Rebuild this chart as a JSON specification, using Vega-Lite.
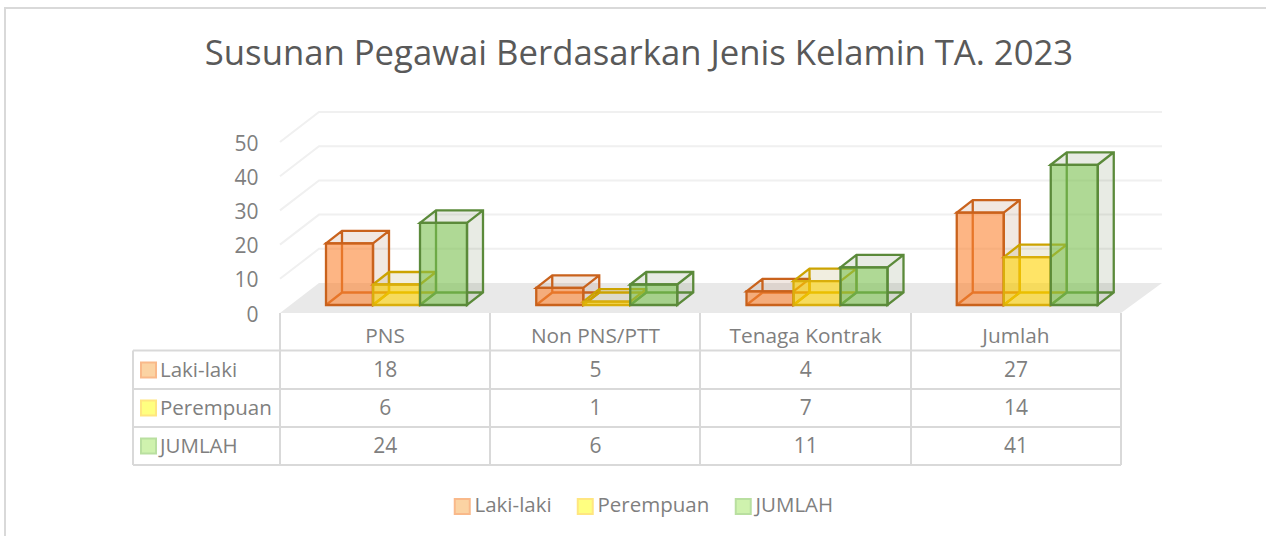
{
"$schema":"https://vega.github.io/schema/vega-lite/v6.json",
"autosize":{"type":"none"},"padding":0,"width":1266,"height":536,
"background":"#ffffff",
"view":{"stroke":null},
"config":{"font":"Open Sans"},
"title":{"text":"Susunan Pegawai Berdasarkan Jenis Kelamin TA. 2023","font":"Open Sans","fontSize":34.7,"fontWeight":"normal","color":"#595959","limit":1200,"anchor":"middle","dx":6,"baseline":"alphabetic","offset":-65,"dy":35,"lineHeight":30},
"datasets":{
"rows":[
{"category":"PNS","series":"Laki-laki","value":18},
{"category":"PNS","series":"Perempuan","value":6},
{"category":"PNS","series":"JUMLAH","value":24},
{"category":"Non PNS/PTT","series":"Laki-laki","value":5},
{"category":"Non PNS/PTT","series":"Perempuan","value":1},
{"category":"Non PNS/PTT","series":"JUMLAH","value":6},
{"category":"Tenaga Kontrak","series":"Laki-laki","value":4},
{"category":"Tenaga Kontrak","series":"Perempuan","value":7},
{"category":"Tenaga Kontrak","series":"JUMLAH","value":11},
{"category":"Jumlah","series":"Laki-laki","value":27},
{"category":"Jumlah","series":"Perempuan","value":14},
{"category":"Jumlah","series":"JUMLAH","value":41}
],
"ticks":[{"tick":10},{"tick":20},{"tick":30},{"tick":40},{"tick":50}]
},
"data":{"name":"rows"},
"resolve":{"scale":{"y":"independent","fill":"independent","stroke":"independent","shape":"independent"},"axis":{"y":"independent"}},
"layer":[
{
"layer":[
{"data":{"name":"ticks"},
 "mark":{"type":"point","filled":false,"opacity":1,"size":4,"strokeWidth":2,"stroke":"#F0F0F0","shape":"M0,0 L39,-30 H882"},
 "encoding":{
  "x":{"datum":"PNS","bandPosition":0,"type":"nominal","axis":null,"scale":{"domain":["PNS","Non PNS/PTT","Tenaga Kontrak","Jumlah"],"range":[280,1121],"paddingInner":0,"paddingOuter":0}},
  "y":{"field":"tick","type":"quantitative","scale":{"domain":[0,50],"range":[313,142],"nice":false},
   "axis":{"title":null,"values":[0,10,20,30,40,50],"domain":false,"ticks":false,"grid":false,"orient":"left","offset":-258,"labelPadding":0,"labelOffset":2,"labelFont":"Open Sans","labelFontSize":21,"labelColor":"#7F7F7F"}}
 }},
{"data":{"values":[{"floor":0}]},
 "mark":{"type":"point","filled":true,"opacity":1,"size":4,"fill":"#E9E9E9","stroke":null,"shape":"M0,0 L39,-30 H882 L841,0 Z"},
 "encoding":{
  "x":{"datum":"PNS","bandPosition":0,"type":"nominal","axis":null},
  "y":{"field":"floor","type":"quantitative"}
 }},
{"mark":{"type":"point","filled":true,"opacity":1,"size":4,"fillOpacity":0.12,"strokeWidth":2.3,"yOffset":-8},
 "encoding":{
  "x":{"field":"category","type":"nominal","axis":null},
  "xOffset":{"field":"series","type":"nominal","scale":{"domain":["Laki-laki","Perempuan","JUMLAH"],"range":[46,187],"paddingInner":0,"paddingOuter":0}},
  "y":{"field":"value","type":"quantitative"},
  "fill":{"field":"series","type":"nominal","legend":null,"scale":{"domain":["Laki-laki","Perempuan","JUMLAH"],"range":["#8B4513","#8B7500","#3E5E20"]}},
  "stroke":{"field":"series","type":"nominal","legend":null,"scale":{"domain":["Laki-laki","Perempuan","JUMLAH"],"range":["#C9621C","#CCA300","#5B8A3A"]}},
  "shape":{"field":"value","type":"nominal","legend":null,"scale":{"domain":[1,4,5,6,7,11,14,18,24,27,41],"range":[
"M-23.5,0 L-7.5,-12.5 H39.5 V-9.08 L23.5,3.42 V0 Z M23.5,0 L39.5,-12.5 Z M-7.5,-12.5 V-9.08 H39.5 H-7.5 Z M-23.5,3.42 L-7.5,-9.08 Z",
"M-23.5,0 L-7.5,-12.5 H39.5 V1.18 L23.5,13.68 V0 Z M23.5,0 L39.5,-12.5 Z M-7.5,-12.5 V1.18 H39.5 H-7.5 Z M-23.5,13.68 L-7.5,1.18 Z",
"M-23.5,0 L-7.5,-12.5 H39.5 V4.6 L23.5,17.1 V0 Z M23.5,0 L39.5,-12.5 Z M-7.5,-12.5 V4.6 H39.5 H-7.5 Z M-23.5,17.1 L-7.5,4.6 Z",
"M-23.5,0 L-7.5,-12.5 H39.5 V8.02 L23.5,20.52 V0 Z M23.5,0 L39.5,-12.5 Z M-7.5,-12.5 V8.02 H39.5 H-7.5 Z M-23.5,20.52 L-7.5,8.02 Z",
"M-23.5,0 L-7.5,-12.5 H39.5 V11.44 L23.5,23.94 V0 Z M23.5,0 L39.5,-12.5 Z M-7.5,-12.5 V11.44 H39.5 H-7.5 Z M-23.5,23.94 L-7.5,11.44 Z",
"M-23.5,0 L-7.5,-12.5 H39.5 V25.12 L23.5,37.62 V0 Z M23.5,0 L39.5,-12.5 Z M-7.5,-12.5 V25.12 H39.5 H-7.5 Z M-23.5,37.62 L-7.5,25.12 Z",
"M-23.5,0 L-7.5,-12.5 H39.5 V35.38 L23.5,47.88 V0 Z M23.5,0 L39.5,-12.5 Z M-7.5,-12.5 V35.38 H39.5 H-7.5 Z M-23.5,47.88 L-7.5,35.38 Z",
"M-23.5,0 L-7.5,-12.5 H39.5 V49.06 L23.5,61.56 V0 Z M23.5,0 L39.5,-12.5 Z M-7.5,-12.5 V49.06 H39.5 H-7.5 Z M-23.5,61.56 L-7.5,49.06 Z",
"M-23.5,0 L-7.5,-12.5 H39.5 V69.58 L23.5,82.08 V0 Z M23.5,0 L39.5,-12.5 Z M-7.5,-12.5 V69.58 H39.5 H-7.5 Z M-23.5,82.08 L-7.5,69.58 Z",
"M-23.5,0 L-7.5,-12.5 H39.5 V79.84 L23.5,92.34 V0 Z M23.5,0 L39.5,-12.5 Z M-7.5,-12.5 V79.84 H39.5 H-7.5 Z M-23.5,92.34 L-7.5,79.84 Z",
"M-23.5,0 L-7.5,-12.5 H39.5 V127.72 L23.5,140.22 V0 Z M23.5,0 L39.5,-12.5 Z M-7.5,-12.5 V127.72 H39.5 H-7.5 Z M-23.5,140.22 L-7.5,127.72 Z"
]}}
 }},
{"mark":{"type":"bar","strokeWidth":2.3,"yOffset":-8,"y2Offset":-8,"fillOpacity":0.6},
 "encoding":{
  "x":{"field":"category","type":"nominal","axis":null},
  "xOffset":{"field":"series","type":"nominal","scale":{"domain":["Laki-laki","Perempuan","JUMLAH"],"range":[46,187],"paddingInner":0,"paddingOuter":0}},
  "y":{"field":"value","type":"quantitative","stack":null},
  "y2":{"datum":0},
  "fill":{"field":"series","type":"nominal","legend":null,"scale":{"domain":["Laki-laki","Perempuan","JUMLAH"],"range":["#FC8432","#FFD200","#79C04F"]}},
  "stroke":{"field":"series","type":"nominal","legend":null,"scale":{"domain":["Laki-laki","Perempuan","JUMLAH"],"range":["#C9621C","#D9AE0C","#5B8A3A"]}}
 }}
],
"resolve":{"scale":{"fill":"independent","stroke":"independent"}}
},
{
"layer":[
{"data":{"values":[{"frame":"table"}]},
 "mark":{"type":"point","filled":false,"opacity":1,"size":4,"strokeWidth":2,"stroke":"#D9D9D9","shape":"M-147,18.5 H841 M-147,57 H841 M-147,95 H841 M-147,133 H841 M-147,18.5 V133 M0,-19 V133 M210,-19 V133 M420,-19 V133 M631,-19 V133 M841,-19 V133 M-275,204 V-324 H986"},
 "encoding":{
  "x":{"datum":"PNS","bandPosition":0,"type":"nominal","axis":null,"scale":{"domain":["PNS","Non PNS/PTT","Tenaga Kontrak","Jumlah"],"range":[280,1121],"paddingInner":0,"paddingOuter":0}},
  "y":{"datum":"header","type":"nominal","axis":null,"scale":{"domain":["header","Laki-laki","Perempuan","JUMLAH"],"range":[313,465],"paddingInner":0,"paddingOuter":0}}
 }},
{"transform":[{"filter":"datum.series === 'Laki-laki'"}],
 "mark":{"type":"text","font":"Open Sans","fontSize":20.8,"color":"#7F7F7F","dy":5},
 "encoding":{
  "x":{"field":"category","type":"nominal","axis":null},
  "y":{"datum":"header","type":"nominal","axis":null},
  "text":{"field":"category"}
 }},
{"mark":{"type":"text","font":"Open Sans","fontSize":21,"color":"#7F7F7F","dy":1},
 "encoding":{
  "x":{"field":"category","type":"nominal","axis":null},
  "y":{"field":"series","type":"nominal","axis":null},
  "text":{"field":"value"}
 }},
{"transform":[{"filter":"datum.category === 'PNS'"}],
 "mark":{"type":"text","font":"Open Sans","fontSize":20.5,"color":"#7F7F7F","align":"left","dx":-120,"dy":1},
 "encoding":{
  "x":{"datum":"PNS","bandPosition":0,"type":"nominal","axis":null},
  "y":{"field":"series","type":"nominal","axis":null},
  "text":{"field":"series"}
 }},
{"transform":[{"filter":"datum.category === 'PNS'"}],
 "mark":{"type":"point","filled":true,"opacity":1,"shape":"square","size":225,"strokeWidth":2,"xOffset":-131.5},
 "encoding":{
  "x":{"datum":"PNS","bandPosition":0,"type":"nominal","axis":null},
  "y":{"field":"series","type":"nominal","axis":null},
  "fill":{"field":"series","type":"nominal","scale":{"domain":["Laki-laki","Perempuan","JUMLAH"],"range":["#FBD3A3","#FFFF80","#CFF2AE"]},
   "legend":{"title":null,"orient":"none","legendX":452,"legendY":496,"direction":"horizontal","columns":3,"columnPadding":21,"symbolSize":225,"symbolType":"square","symbolStrokeWidth":2,"labelOffset":2,"labelFont":"Open Sans","labelFontSize":20.5,"labelColor":"#7F7F7F","symbolOpacity":1}},
  "stroke":{"field":"series","type":"nominal","scale":{"domain":["Laki-laki","Perempuan","JUMLAH"],"range":["#F9B98A","#FFE680","#B9DFA0"]}}
 }}
]
}
]
}
